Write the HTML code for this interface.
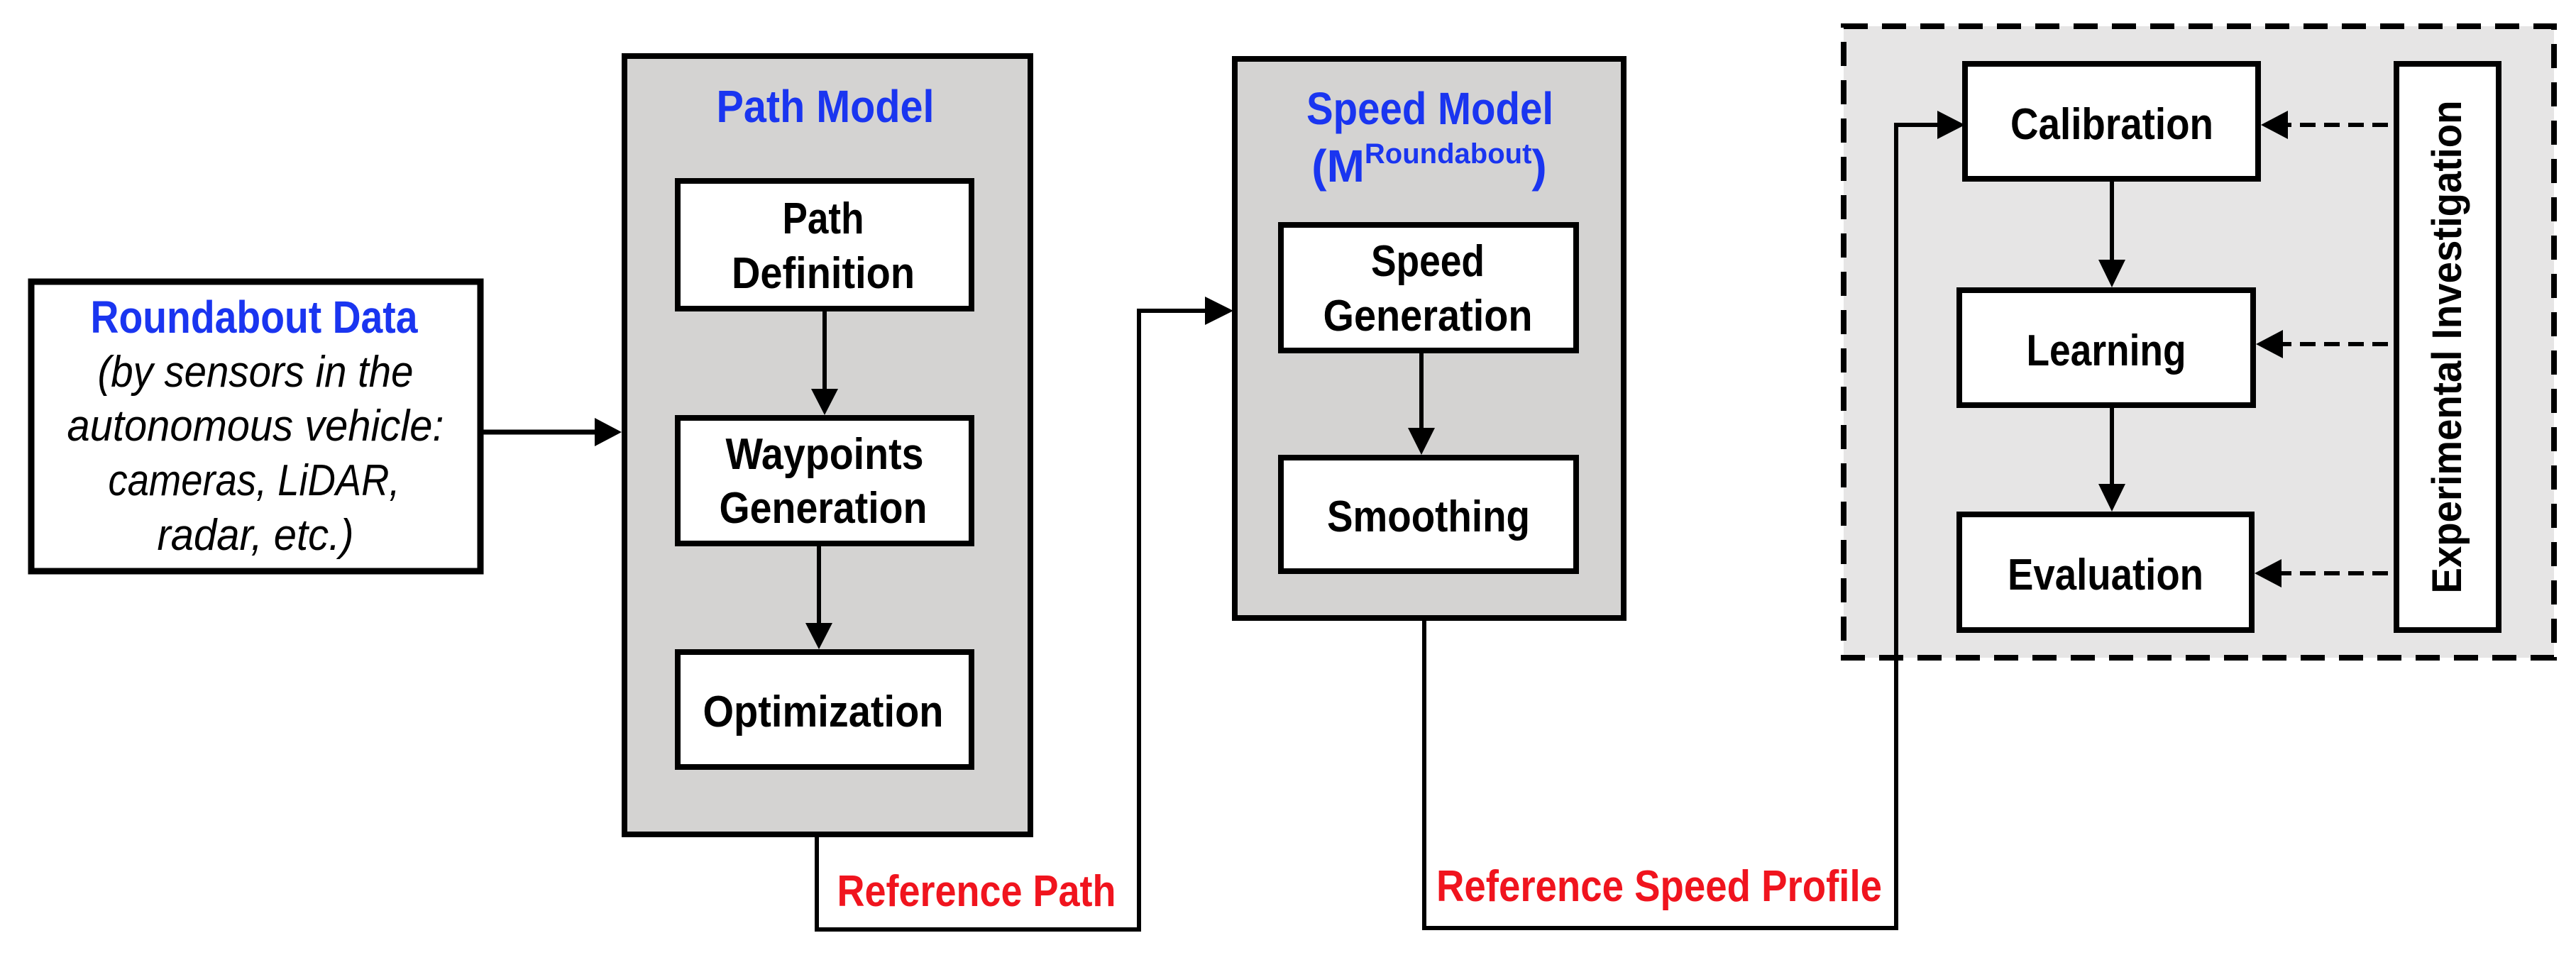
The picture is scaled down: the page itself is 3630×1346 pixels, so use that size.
<!DOCTYPE html>
<html><head><meta charset="utf-8"><style>
html,body{margin:0;padding:0;background:#fff;}
svg{display:block;}
text{font-family:"Liberation Sans",sans-serif;font-weight:bold;}
</style></head><body>
<svg width="3630" height="1346" viewBox="0 0 3630 1346" xmlns="http://www.w3.org/2000/svg">
<!-- Roundabout data box -->
<rect x="44" y="397" width="633" height="408" fill="#fff" stroke="#000" stroke-width="9"/>
<text x="358" y="469" text-anchor="middle" fill="#1a35f0" font-size="64" textLength="461" lengthAdjust="spacingAndGlyphs">Roundabout Data</text>
<g font-style="italic" font-size="62" text-anchor="middle" fill="#000">
<text x="360" y="545" style="font-weight:normal" textLength="445" lengthAdjust="spacingAndGlyphs">(by sensors in the</text>
<text x="360" y="621" style="font-weight:normal" textLength="531" lengthAdjust="spacingAndGlyphs">autonomous vehicle:</text>
<text x="358" y="698" style="font-weight:normal" textLength="411" lengthAdjust="spacingAndGlyphs">cameras, LiDAR,</text>
<text x="360" y="775" style="font-weight:normal" textLength="277" lengthAdjust="spacingAndGlyphs">radar, etc.)</text>
</g>
<line x1="681" y1="609" x2="840" y2="609" stroke="#000" stroke-width="7"/>
<polygon points="838,589 876,609 838,629" fill="#000"/>

<!-- Path Model panel -->
<rect x="880" y="79" width="572" height="1097" fill="#d4d3d2" stroke="#000" stroke-width="8"/>
<text x="1163" y="172" text-anchor="middle" fill="#1a35f0" font-size="64" textLength="307" lengthAdjust="spacingAndGlyphs">Path Model</text>
<rect x="955" y="255" width="414" height="180" fill="#fff" stroke="#000" stroke-width="8"/>
<text x="1160" y="329" text-anchor="middle" font-size="62" textLength="115" lengthAdjust="spacingAndGlyphs">Path</text>
<text x="1160" y="406" text-anchor="middle" font-size="62" textLength="258" lengthAdjust="spacingAndGlyphs">Definition</text>
<rect x="955" y="589" width="414" height="177" fill="#fff" stroke="#000" stroke-width="8"/>
<text x="1162" y="661" text-anchor="middle" font-size="62" textLength="279" lengthAdjust="spacingAndGlyphs">Waypoints</text>
<text x="1160" y="737" text-anchor="middle" font-size="62" textLength="293" lengthAdjust="spacingAndGlyphs">Generation</text>
<rect x="955" y="919" width="414" height="162" fill="#fff" stroke="#000" stroke-width="8"/>
<text x="1160" y="1024" text-anchor="middle" font-size="62" textLength="339" lengthAdjust="spacingAndGlyphs">Optimization</text>
<line x1="1162" y1="439" x2="1162" y2="550" stroke="#000" stroke-width="6"/>
<polygon points="1143,548 1162,585 1181,548" fill="#000"/>
<line x1="1154" y1="770" x2="1154" y2="880" stroke="#000" stroke-width="6"/>
<polygon points="1135,878 1154,915 1173,878" fill="#000"/>

<!-- Reference path connector -->
<polyline points="1151,1180 1151,1310 1605,1310 1605,438 1700,438" fill="none" stroke="#000" stroke-width="6"/>
<polygon points="1698,418 1738,438 1698,458" fill="#000"/>
<text x="1376" y="1277" text-anchor="middle" fill="#f0141e" font-size="62" textLength="393" lengthAdjust="spacingAndGlyphs">Reference Path</text>

<!-- Speed Model panel -->
<rect x="1740" y="83" width="548" height="788" fill="#d4d3d2" stroke="#000" stroke-width="8"/>
<text x="2015" y="175" text-anchor="middle" fill="#1a35f0" font-size="64" textLength="348" lengthAdjust="spacingAndGlyphs">Speed Model</text>
<text x="2014" y="256" text-anchor="middle" fill="#1a35f0" font-size="64">(M<tspan font-size="40" dy="-26">Roundabout</tspan><tspan dy="26">)</tspan></text>
<rect x="1805" y="317" width="416" height="177" fill="#fff" stroke="#000" stroke-width="8"/>
<text x="2012" y="389" text-anchor="middle" font-size="62" textLength="160" lengthAdjust="spacingAndGlyphs">Speed</text>
<text x="2012" y="466" text-anchor="middle" font-size="62" textLength="295" lengthAdjust="spacingAndGlyphs">Generation</text>
<rect x="1805" y="645" width="416" height="160" fill="#fff" stroke="#000" stroke-width="8"/>
<text x="2013" y="749" text-anchor="middle" font-size="62" textLength="286" lengthAdjust="spacingAndGlyphs">Smoothing</text>
<line x1="2003" y1="498" x2="2003" y2="605" stroke="#000" stroke-width="6"/>
<polygon points="1984,603 2003,641 2022,603" fill="#000"/>

<!-- Dashed panel -->
<rect x="2598" y="37" width="1001" height="890" fill="#e6e5e5" stroke="#000" stroke-width="8" stroke-dasharray="34,20"/>

<!-- Speed connector (drawn over panel) -->
<polyline points="2007,875 2007,1308 2672,1308 2672,176 2732,176" fill="none" stroke="#000" stroke-width="6"/>
<polygon points="2730,156 2769,176 2730,196" fill="#000"/>
<text x="2338" y="1270" text-anchor="middle" fill="#f0141e" font-size="62" textLength="628" lengthAdjust="spacingAndGlyphs">Reference Speed Profile</text>

<rect x="2769" y="90" width="413" height="162" fill="#fff" stroke="#000" stroke-width="8"/>
<text x="2976" y="196" text-anchor="middle" font-size="62" textLength="286" lengthAdjust="spacingAndGlyphs">Calibration</text>
<rect x="2761" y="409" width="414" height="162" fill="#fff" stroke="#000" stroke-width="8"/>
<text x="2968" y="515" text-anchor="middle" font-size="62" textLength="225" lengthAdjust="spacingAndGlyphs">Learning</text>
<rect x="2761" y="725" width="412" height="163" fill="#fff" stroke="#000" stroke-width="8"/>
<text x="2967" y="831" text-anchor="middle" font-size="62" textLength="276" lengthAdjust="spacingAndGlyphs">Evaluation</text>
<line x1="2976" y1="256" x2="2976" y2="368" stroke="#000" stroke-width="6"/>
<polygon points="2957,366 2976,405 2995,366" fill="#000"/>
<line x1="2976" y1="575" x2="2976" y2="684" stroke="#000" stroke-width="6"/>
<polygon points="2957,682 2976,721 2995,682" fill="#000"/>

<!-- Experimental investigation -->
<rect x="3377" y="90" width="144" height="798" fill="#fff" stroke="#000" stroke-width="8"/>
<text x="0" y="0" transform="translate(3468,489) rotate(-90)" text-anchor="middle" font-size="58" textLength="695" lengthAdjust="spacingAndGlyphs">Experimental Investigation</text>
<g stroke="#000" stroke-width="6" stroke-dasharray="22,12">
<line x1="3365" y1="176" x2="3222" y2="176"/>
<line x1="3365" y1="485" x2="3215" y2="485"/>
<line x1="3365" y1="808" x2="3213" y2="808"/>
</g>
<polygon points="3224,156 3186,176 3224,196" fill="#000"/>
<polygon points="3217,465 3179,485 3217,505" fill="#000"/>
<polygon points="3215,788 3177,808 3215,828" fill="#000"/>
</svg>
</body></html>
